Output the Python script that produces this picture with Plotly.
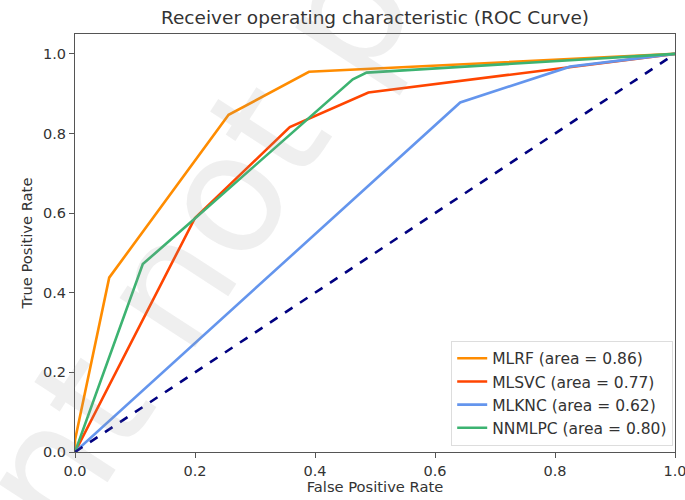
import plotly.graph_objects as go

# Data
mlrf_fpr = [0.0, 0.0, 0.057, 0.256, 0.39, 1.0]
mlrf_tpr = [0.0, 0.03, 0.438, 0.847, 0.955, 1.0]

mlsvc_fpr = [0.0, 0.2, 0.358, 0.489, 1.0]
mlsvc_tpr = [0.0, 0.588, 0.816, 0.903, 1.0]

mlknc_fpr = [0.0, 0.642, 0.825, 1.0]
mlknc_tpr = [0.0, 0.878, 0.968, 1.0]

nnmlpc_fpr = [0.0, 0.113, 0.197, 0.463, 0.486, 1.0]
nnmlpc_tpr = [0.0, 0.472, 0.583, 0.936, 0.953, 1.0]

chance = [0.0, 1.0]

names = ["MLRF (area = 0.86)", "MLSVC (area = 0.77)", "MLKNC (area = 0.62)", "NNMLPC (area = 0.80)"]
colors = ["#FF8C00", "#FF4500", "#6495ED", "#3CB371"]
xs = [mlrf_fpr, mlsvc_fpr, mlknc_fpr, nnmlpc_fpr]
ys = [mlrf_tpr, mlsvc_tpr, mlknc_tpr, nnmlpc_tpr]
tick_vals = [0, 0.2, 0.4, 0.6, 0.8, 1.0]
tick_text = ["0.0", "0.2", "0.4", "0.6", "0.8", "1.0"]

fig = go.Figure()
for x, y, n, c in zip(xs, ys, names, colors):
    fig.add_trace(go.Scatter(x=x, y=y, mode="lines", name=n,
                             line=dict(color=c, width=2.6)))
fig.add_trace(go.Scatter(x=chance, y=chance, mode="lines", showlegend=False,
                         line=dict(color="#000080", width=2.6, dash="dash")))

font_family = "DejaVu Sans"
axis_common = dict(showgrid=False, zeroline=False, showline=True, mirror=True,
                   linecolor="#555555", linewidth=1.2, ticks="outside", ticklen=5,
                   tickcolor="#555555", tickfont=dict(size=14.5, color="#333333"),
                   title_font=dict(size=14.7, color="#333333"),
                   ticklabeloverflow="allow", automargin=False)

fig.update_layout(
    width=685, height=500,
    margin=dict(l=75, r=10, t=34, b=48, autoexpand=False),
    paper_bgcolor="white", plot_bgcolor="white",
    font=dict(family=font_family, color="#333333"),
    title=dict(text="Receiver operating characteristic (ROC Curve)",
               x=0.5, xref="paper", xanchor="center", y=0.965, yanchor="middle",
               font=dict(size=18.5, color="#333333")),
    xaxis=dict(range=[0, 1], tickvals=tick_vals, ticktext=tick_text,
               title=dict(text="False Positive Rate", standoff=2), **axis_common),
    yaxis=dict(range=[0, 1.05], tickvals=tick_vals, ticktext=tick_text,
               title=dict(text="True Positive Rate", standoff=6), **axis_common),
    legend=dict(x=0.997, y=0.015, xanchor="right", yanchor="bottom",
                bgcolor="rgba(255,255,255,0.9)", bordercolor="#dddddd", borderwidth=1,
                font=dict(size=15.5, color="#333333"), tracegroupgap=0),
    annotations=[dict(text="nt not p", xref="paper", yref="paper",
                      x=0.2, y=0.5, xanchor="center", yanchor="middle",
                      showarrow=False, textangle=-57,
                      font=dict(size=165, color="rgba(150,150,150,0.15)"))],
)

fig.write_html("out.html")
